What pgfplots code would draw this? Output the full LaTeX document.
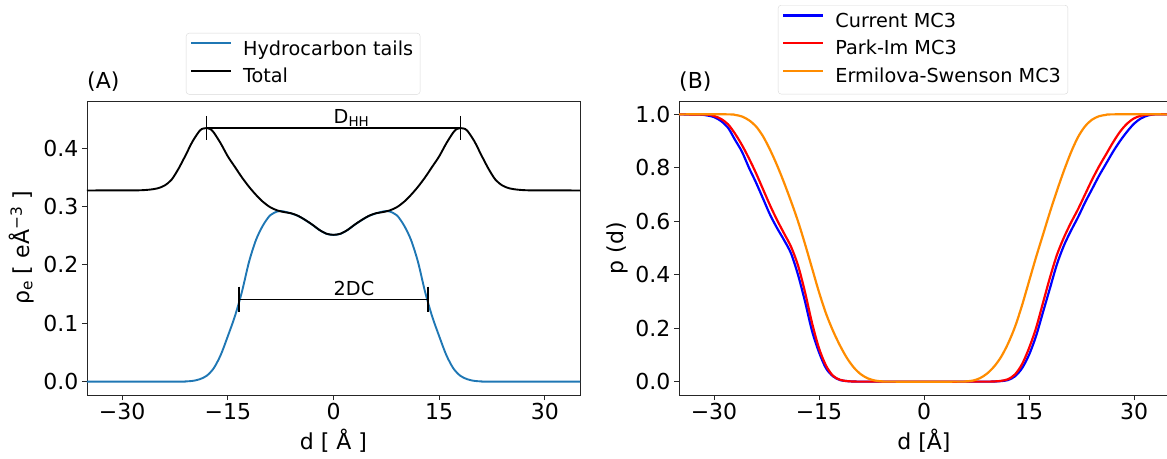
\documentclass[border=0pt]{standalone}
\usepackage{fontspec}
\setmainfont{DejaVu Sans}
\usepackage{pgfplots}
\pgfplotsset{compat=1.18}
\usepackage{pgfplotstable}
\newcommand{\tfont}{\fontsize{22bp}{26bp}\selectfont}
\newcommand{\lfont}{\fontsize{19.25bp}{23bp}\selectfont}
\definecolor{tabblue}{HTML}{1F77B4}
\definecolor{dorange}{RGB}{255,140,0}

\pgfplotstableread{
d v
-35 0.3276
-30 0.3278
-28 0.3278
-27 0.3282
-26 0.3292
-25 0.3312
-24 0.3360
-23 0.3460
-22 0.3650
-21 0.3880
-20 0.4120
-19 0.4300
-18.5 0.4338
-18 0.4346
-17.5 0.4330
-17 0.4270
-16 0.4080
-15 0.3860
-14 0.3680
-13 0.3500
-12 0.3340
-11 0.3200
-10 0.3080
-9 0.2990
-8 0.2935
-7 0.2905
-6 0.2885
-5 0.2840
-4 0.2770
-3 0.2690
-2 0.2600
-1 0.2535
0 0.2516
1 0.2535
2 0.2600
3 0.2690
4 0.2770
5 0.2840
6 0.2885
7 0.2905
8 0.2935
9 0.2990
10 0.3080
11 0.3200
12 0.3340
13 0.3500
14 0.3680
15 0.3860
16 0.4080
17 0.4270
17.5 0.4330
18 0.4346
18.5 0.4338
19 0.4300
20 0.4120
21 0.3880
22 0.3650
23 0.3460
24 0.3360
25 0.3312
26 0.3292
27 0.3282
28 0.3278
30 0.3278
35 0.3276
}\total

\pgfplotstableread{
d v
-35 0
-22 0
-21 0.0003
-20 0.0012
-19 0.004
-18 0.010
-17 0.023
-16 0.046
-15 0.078
-14 0.112
-13 0.154
-12 0.205
-11 0.243
-10 0.268
-9 0.285
-8 0.2915
-7.5 0.2925
-7 0.2915
-6 0.2882
-5 0.2838
-4 0.2768
-3 0.2688
-2 0.2598
-1 0.2533
0 0.2514
1 0.2533
2 0.2598
3 0.2688
4 0.2768
5 0.2838
6 0.2882
7 0.2915
7.5 0.2925
8 0.2915
9 0.285
10 0.268
11 0.243
12 0.205
13 0.154
14 0.112
15 0.078
16 0.046
17 0.023
18 0.010
19 0.004
20 0.0012
21 0.0003
22 0
35 0
}\tails

\pgfplotstableread{
d v
-35 1.0
-32 0.999
-31 0.996
-30 0.99
-29 0.975
-28 0.95
-27 0.905
-26 0.86
-25 0.80
-24 0.745
-23 0.685
-22 0.625
-21 0.575
-20 0.53
-19 0.48
-18 0.40
-17 0.30
-16 0.19
-15 0.11
-14 0.05
-13 0.02
-12 0.006
-11 0.002
-10 0.0005
-8 0
8 0
10 0.0005
11 0.002
12 0.006
13 0.02
14 0.05
15 0.10
16 0.17
17 0.26
18 0.35
19 0.44
20 0.51
21 0.565
22 0.615
23 0.67
24 0.72
25 0.77
26 0.815
27 0.86
28 0.90
29 0.935
30 0.965
31 0.985
32 0.996
33 1.0
35 1.0
}\current

\pgfplotstableread{
d v
-35 1.0
-31 0.999
-30 0.994
-29 0.983
-28 0.963
-27 0.928
-26 0.885
-25 0.835
-24 0.78
-23 0.72
-22 0.66
-21 0.605
-20 0.555
-19 0.505
-18 0.435
-17 0.335
-16 0.22
-15 0.125
-14 0.06
-13 0.022
-12 0.007
-11 0.002
-10 0.0005
-8 0
8 0
10 0.0007
11 0.003
12 0.009
13 0.027
14 0.065
15 0.125
16 0.20
17 0.295
18 0.39
19 0.475
20 0.54
21 0.595
22 0.645
23 0.70
24 0.755
25 0.805
26 0.85
27 0.895
28 0.935
29 0.965
30 0.985
31 0.995
32 0.999
33 1.0
35 1.0
}\parkim

\pgfplotstableread{
d v
-35 1.0
-28 1.0
-27 0.998
-26 0.992
-25 0.978
-24 0.955
-23 0.918
-22 0.868
-21 0.81
-20 0.745
-19 0.675
-18 0.60
-17 0.515
-16 0.425
-15 0.335
-14 0.255
-13 0.19
-12 0.135
-11 0.088
-10 0.052
-9 0.027
-8 0.012
-7 0.004
-6 0.001
-5 0
5 0
6 0.001
7 0.004
8 0.013
9 0.03
10 0.056
11 0.092
12 0.142
13 0.205
14 0.285
15 0.375
16 0.465
17 0.55
18 0.635
19 0.715
20 0.79
21 0.858
22 0.915
23 0.955
24 0.98
25 0.993
26 0.998
27 1.0
35 1.0
}\ermilova

\pgfplotsset{
 common/.style={
  scale only axis, height=294bp, xmin=-35, xmax=35, clip=false,
  axis line style={draw=black!85, line width=0.9bp},
  tick style={draw=black!85, line width=0.9bp},
  major tick length=5bp, tick align=outside, xtick pos=bottom, ytick pos=left,
  xtick={-30,-15,0,15,30}, xticklabels={−30,−15,0,15,30},
  tick label style={font=\tfont},
  label style={font=\tfont},
  title style={font=\tfont, anchor=base west, inner sep=0pt},
  legend cell align=left,
  legend image code/.code={\draw[##1] (0bp,6.5bp) -- (40bp,6.5bp); \path (0bp,0bp) (48bp,0bp);},
  legend style={draw=black!15, rounded corners=3bp, font=\lfont, anchor=north west,
    inner xsep=4bp, inner ysep=4bp, row sep=2.2bp,
    nodes={inner sep=3bp, text height=15bp, text depth=4.5bp}},
 }
}

\begin{document}
\begin{tikzpicture}
\begin{axis}[common, at={(0bp,0bp)}, anchor=south west, width=493bp,
  ymin=-0.023, ymax=0.481,
  ytick={0,0.1,0.2,0.3,0.4}, yticklabels={0.0,0.1,0.2,0.3,0.4},
  xlabel={d [ Å ]}, ylabel={ρ\textsubscript{e} [ eÅ\textsuperscript{−3} ]},
  xlabel style={at={(axis description cs:0.5,-0.1837)}, anchor=base},
  ylabel style={at={(axis description cs:-0.1329,0.5)}, anchor=center},
  title={(A)}, title style={at={(axis description cs:0,1.0238)}},
  legend style={at={(0.2008,1.2313)}},
]
\addplot[tabblue, line width=1.9bp, smooth] table[x=d,y=v] {\tails};
\addlegendentry{Hydrocarbon tails}
\addplot[black, line width=1.9bp, smooth] table[x=d,y=v] {\total};
\addlegendentry{Total}
\addplot[black, line width=1.6bp, mark=|, mark size=12.3bp, mark options={line width=1.5bp}, forget plot] coordinates {(-18,0.4346) (18,0.4346)};
\addplot[black, line width=1.6bp, mark=|, mark size=12.8bp, mark options={line width=1.5bp}, forget plot] coordinates {(-13.4,0.141) (13.4,0.141)};
\node[anchor=base west, inner sep=0pt, font=\lfont] at (axis cs:0,0.443) {D\textsubscript{HH}};
\node[anchor=base west, inner sep=0pt, font=\lfont] at (axis cs:0,0.147) {2DC};
\end{axis}

\begin{axis}[common, at={(592bp,0bp)}, anchor=south west, width=490bp,
  ymin=-0.05, ymax=1.05,
  ytick={0,0.2,0.4,0.6,0.8,1.0}, yticklabels={0.0,0.2,0.4,0.6,0.8,1.0},
  xlabel={d [Å]}, ylabel={p (d)},
  xlabel style={at={(axis description cs:0.5,-0.1837)}, anchor=base},
  ylabel style={at={(axis description cs:-0.1265,0.5)}, anchor=center},
  title={(B)}, title style={at={(axis description cs:0,1.0238)}},
  legend style={at={(0.202,1.3265)}},
]
\addplot[blue, line width=2.2bp, smooth] table[x=d,y=v] {\current};
\addlegendentry{Current MC3}
\addplot[red, line width=2.2bp, smooth] table[x=d,y=v] {\parkim};
\addlegendentry{Park-Im MC3}
\addplot[dorange, line width=2.2bp, smooth] table[x=d,y=v] {\ermilova};
\addlegendentry{Ermilova-Swenson MC3}
\end{axis}
\pgfresetboundingbox
\path[use as bounding box] (-87bp,-64bp) rectangle (1080bp,395bp);
\end{tikzpicture}
\end{document}
